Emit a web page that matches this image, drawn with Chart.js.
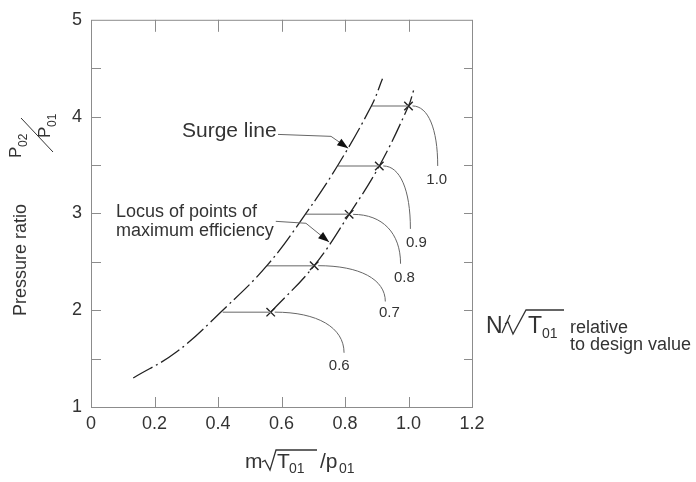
<!DOCTYPE html>
<html>
<head>
<meta charset="utf-8">
<script src="https://cdn.jsdelivr.net/npm/chart.js@4.4.1/dist/chart.umd.min.js"></script>
<style>
  html, body { margin: 0; padding: 0; background: #fff; }
  #wrap { width: 696px; height: 482px; }
</style>
</head>
<body>
<div id="wrap"><canvas id="chart"></canvas></div>
<script>
// Axis ticks
const xTicks = [0, 0.2, 0.4, 0.6, 0.8, 1.0, 1.2];
const xTickLabels = ["0", "0.2", "0.4", "0.6", "0.8", "1.0", "1.2"];
const yTicks = [1, 2, 3, 4, 5];
const yTickLabels = ["1", "2", "3", "4", "5"];
const yTickMarks = [1.5, 2, 2.5, 3, 3.5, 4, 4.5];

// Surge line (mass flow parameter vs pressure ratio)
const surgeX = [0.133, 0.27, 0.415, 0.554, 0.677, 0.778, 0.883, 0.918];
const surgeY = [1.30, 1.57, 2.00, 2.46, 3.00, 3.50, 4.11, 4.39];

// Locus of points of maximum efficiency
const locusX = [0.566, 0.703, 0.813, 0.908, 1.000, 1.016];
const locusY = [1.98, 2.46, 2.99, 3.49, 4.11, 4.27];

// Constant speed lines N/sqrt(T01): start on surge line, end at peak-efficiency point
const speeds = ["0.6", "0.7", "0.8", "0.9", "1.0"];
const speedStartX = [0.415, 0.554, 0.677, 0.778, 0.883];
const peakX = [0.566, 0.703, 0.813, 0.908, 1.000];
const peakY = [1.98, 2.46, 2.99, 3.49, 4.11];

// Leader curves from each peak point to its speed label
const leaderEndX = [0.797, 0.927, 0.975, 1.006, 1.092];
const leaderEndY = [1.56, 2.09, 2.48, 2.84, 3.49];
const labelX = [0.782, 0.940, 0.987, 1.025, 1.089];
const labelY = [1.43, 1.97, 2.33, 2.70, 3.35];

// Annotation arrows (data coords)
const surgeArrowX = [0.589, 0.756, 0.810];
const surgeArrowY = [3.816, 3.796, 3.673];
const locusArrowX = [0.582, 0.677, 0.750];
const locusArrowY = [2.918, 2.898, 2.704];

const FONT = "'Liberation Sans', Arial, Helvetica, sans-serif";
const TEXT = "#333";

const pts = (xs, ys) => xs.map((x, i) => ({ x, y: ys[i] }));

const datasets = [
    {
        data: pts(surgeX, surgeY),
        showLine: true,
        borderColor: "#222",
        borderWidth: 1.3,
        borderDash: [22, 4, 2, 4],
        pointRadius: 0,
        tension: 0.4
    },
    {
        data: pts(locusX, locusY),
        showLine: true,
        borderColor: "#222",
        borderWidth: 1.3,
        borderDash: [20, 4, 2, 4],
        pointRadius: 0,
        tension: 0.4
    }
];

speeds.forEach((s, i) => {
    datasets.push({
        data: [{ x: speedStartX[i], y: peakY[i] }, { x: peakX[i], y: peakY[i] }],
        showLine: true,
        borderColor: "#999",
        borderWidth: 1.5,
        pointRadius: 0
    });
});

datasets.push({
    data: pts(peakX, peakY),
    showLine: false,
    pointStyle: "crossRot",
    pointRadius: 6,
    pointBorderColor: "#222",
    pointBorderWidth: 1.4
});

function line(ctx, x0, y0, x1, y1) {
    ctx.beginPath();
    ctx.moveTo(x0, y0);
    ctx.lineTo(x1, y1);
    ctx.stroke();
}

function arrow(ctx, p) {
    ctx.beginPath();
    ctx.moveTo(p[0].x, p[0].y);
    for (let i = 1; i < p.length; i++) ctx.lineTo(p[i].x, p[i].y);
    ctx.stroke();
    const a = p[p.length - 2], b = p[p.length - 1];
    const ang = Math.atan2(b.y - a.y, b.x - a.x);
    const L = 11, W = 4;
    const bx = b.x - L * Math.cos(ang), by = b.y - L * Math.sin(ang);
    ctx.beginPath();
    ctx.moveTo(b.x, b.y);
    ctx.lineTo(bx - W * Math.sin(ang), by + W * Math.cos(ang));
    ctx.lineTo(bx + W * Math.sin(ang), by - W * Math.cos(ang));
    ctx.closePath();
    ctx.fill();
}

function radical(ctx, x, top, bottom, overEnd) {
    const h = bottom - top;
    ctx.beginPath();
    ctx.moveTo(x, top + h * 0.6);
    ctx.lineTo(x + 3, top + h * 0.52);
    ctx.lineTo(x + 8, bottom);
    ctx.lineTo(x + 14, top);
    ctx.lineTo(overEnd, top);
    ctx.stroke();
}

const decorations = {
    id: "decorations",
    afterDraw(chart) {
        const { ctx, chartArea: a, scales: { x, y } } = chart;
        const px = v => x.getPixelForValue(v);
        const py = v => y.getPixelForValue(v);
        ctx.save();

        // frame with inward ticks
        ctx.strokeStyle = "#8c8c8c";
        ctx.lineWidth = 1;
        ctx.strokeRect(a.left + 0.5, a.top + 0.5, a.right - a.left, a.bottom - a.top);
        xTicks.slice(1, -1).forEach(v => {
            const X = Math.round(px(v)) + 0.5;
            line(ctx, X, a.bottom, X, a.bottom - 10);
            line(ctx, X, a.top, X, a.top + 12);
        });
        yTickMarks.forEach(v => {
            const Y = Math.round(py(v)) + 0.5;
            line(ctx, a.left, Y, a.left + 10, Y);
            line(ctx, a.right, Y, a.right - 8, Y);
        });

        // leader curves to speed labels
        ctx.strokeStyle = "#666";
        ctx.lineWidth = 1;
        speeds.forEach((s, i) => {
            const x0 = px(peakX[i]) + 4, y0 = py(peakY[i]);
            const x1 = px(leaderEndX[i]), y1 = py(leaderEndY[i]);
            const k = 0.62;
            ctx.beginPath();
            ctx.moveTo(x0, y0);
            ctx.bezierCurveTo(x0 + k * (x1 - x0), y0, x1, y1 - k * (y1 - y0), x1, y1);
            ctx.stroke();
        });
        ctx.fillStyle = TEXT;
        ctx.font = "15px " + FONT;
        ctx.textAlign = "center";
        ctx.textBaseline = "middle";
        speeds.forEach((s, i) => ctx.fillText(s, px(labelX[i]), py(labelY[i])));

        // annotations
        ctx.textAlign = "left";
        ctx.textBaseline = "alphabetic";
        ctx.font = "21px " + FONT;
        ctx.fillText("Surge line", 182, 137);
        ctx.font = "18px " + FONT;
        ctx.fillText("Locus of points of", 116, 217);
        ctx.fillText("maximum efficiency", 116, 236);

        ctx.strokeStyle = "#666";
        ctx.fillStyle = "#111";
        arrow(ctx, surgeArrowX.map((v, i) => ({ x: px(v), y: py(surgeArrowY[i]) })));
        arrow(ctx, locusArrowX.map((v, i) => ({ x: px(v), y: py(locusArrowY[i]) })));

        // x axis title: m sqrt(T01) / p01
        ctx.fillStyle = TEXT;
        ctx.strokeStyle = TEXT;
        ctx.lineWidth = 1.3;
        ctx.font = "21px " + FONT;
        ctx.fillText("m", 245, 468);
        radical(ctx, 262, 450, 470, 317);
        ctx.fillText("T", 277, 468);
        ctx.font = "14px " + FONT;
        ctx.fillText("01", 289, 473);
        ctx.font = "21px " + FONT;
        ctx.fillText("/p", 320, 468);
        ctx.font = "14px " + FONT;
        ctx.fillText("01", 339, 473);

        // right label: N / sqrt(T01) relative to design value
        ctx.font = "23px " + FONT;
        ctx.fillText("N", 486, 333);
        line(ctx, 502, 333, 510, 315);
        ctx.beginPath();
        ctx.moveTo(505, 324);
        ctx.lineTo(508, 322);
        ctx.lineTo(513, 334);
        ctx.lineTo(526, 310);
        ctx.lineTo(564, 310);
        ctx.stroke();
        ctx.fillText("T", 528, 333);
        ctx.font = "14px " + FONT;
        ctx.fillText("01", 542, 338);
        ctx.font = "18px " + FONT;
        ctx.fillText("relative", 570, 333);
        ctx.fillText("to design value", 570, 350);

        // y axis title
        ctx.save();
        ctx.translate(26, 260);
        ctx.rotate(-Math.PI / 2);
        ctx.textAlign = "center";
        ctx.font = "18px " + FONT;
        ctx.fillText("Pressure ratio", 0, 0);
        ctx.restore();

        // P02 / P01 fraction, rotated
        ctx.save();
        ctx.translate(35, 140);
        ctx.rotate(-Math.PI / 2);
        ctx.font = "17px " + FONT;
        ctx.fillText("P", -18, -14);
        ctx.fillText("P", 2, 15);
        ctx.font = "12px " + FONT;
        ctx.fillText("02", -7, -8);
        ctx.fillText("01", 13, 21);
        ctx.lineWidth = 1;
        line(ctx, 22, -14, -12, 18);
        ctx.restore();

        ctx.restore();
    }
};

new Chart(document.getElementById("chart"), {
    type: "scatter",
    data: { datasets },
    plugins: [decorations],
    options: {
        responsive: true,
        maintainAspectRatio: false,
        animation: false,
        layout: { padding: { left: 0, top: 15, right: 224, bottom: 0 } },
        plugins: { legend: { display: false }, tooltip: { enabled: false } },
        scales: {
            x: {
                type: "linear",
                min: 0,
                max: 1.2,
                afterBuildTicks: s => { s.ticks = xTicks.map(v => ({ value: v })); },
                afterFit: s => { s.height = 75; },
                grid: { display: false, drawTicks: false },
                border: { display: false },
                ticks: {
                    callback: (v, i) => xTickLabels[i],
                    font: { family: FONT, size: 18 },
                    color: TEXT,
                    padding: 6,
                    maxRotation: 0,
                    autoSkip: false
                }
            },
            y: {
                type: "linear",
                min: 1,
                max: 5,
                afterBuildTicks: s => { s.ticks = yTicks.map(v => ({ value: v })); },
                afterFit: s => { s.width = 91; },
                grid: { display: false, drawTicks: false },
                border: { display: false },
                ticks: {
                    callback: (v, i) => yTickLabels[i],
                    font: { family: FONT, size: 18 },
                    color: TEXT,
                    padding: 9,
                    autoSkip: false
                }
            }
        }
    }
});
</script>
</body>
</html>
